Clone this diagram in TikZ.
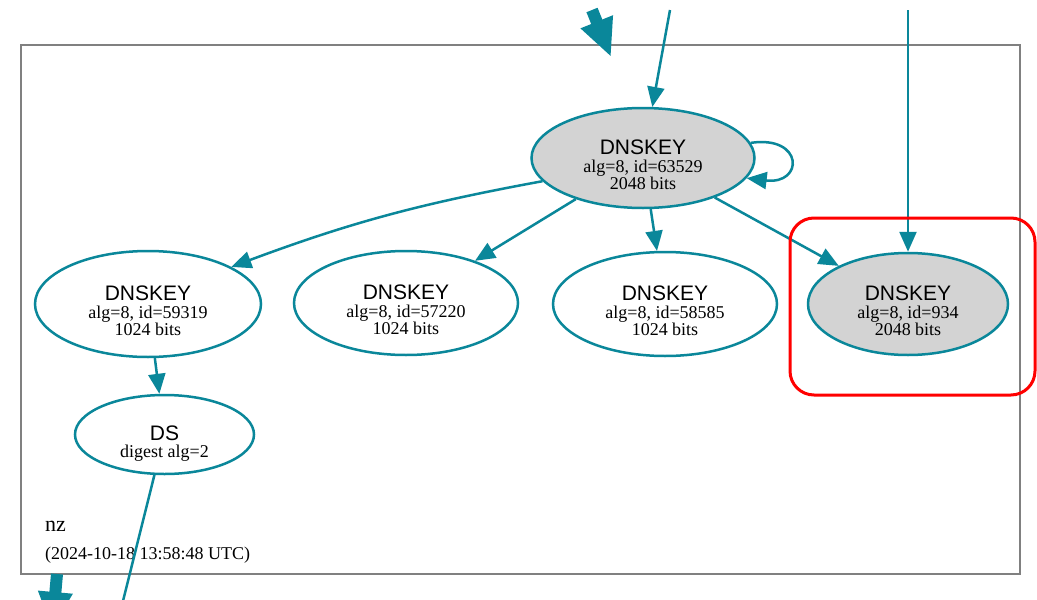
\documentclass[tikz,border=0pt]{standalone}
\usepackage{fontspec}
\setmainfont{Liberation Serif}
\setsansfont{Liberation Sans}
\usetikzlibrary{arrows.meta,shapes.geometric}
\definecolor{dnsteal}{HTML}{0A879A}
\definecolor{dnsgray}{HTML}{D3D3D3}
\definecolor{framegray}{HTML}{808080}
\begin{document}
\begin{tikzpicture}[x=1pt,y=-1pt,
  keynode/.style={ellipse, draw=dnsteal, line width=2.5pt, inner sep=0pt, align=center,
    font=\fontsize{18}{17.5}\selectfont, minimum width=224pt, minimum height=104pt},
  ksknode/.style={keynode, fill=dnsgray},
  edge/.style={draw=dnsteal, line width=2.5pt, -{Triangle[length=20pt,width=17pt]}},
  thickedge/.style={draw=dnsteal, line width=12pt, -{Triangle[length=38pt,width=32pt]}},
  plain/.style={draw=dnsteal, line width=2.5pt},
  caption/.style={anchor=base west, inner sep=0pt}
]
\useasboundingbox (0,0) rectangle (1037,600);
\clip (0,0) rectangle (1037,600);
\fill[white] (0,0) rectangle (1037,600);

% zone frame
\draw[framegray, line width=1.6pt] (21,45) rectangle (1020,574);

% nodes
\node[ksknode, minimum width=223pt, minimum height=100pt] (k1) at (643,158)
  {\rule{0pt}{29pt}{\sffamily\fontsize{21}{17.5}\selectfont DNSKEY}\\alg=8, id=63529\\2048 bits};
\node[keynode, minimum width=226pt, minimum height=106pt] (k2) at (148,304)
  {\rule{0pt}{29pt}{\sffamily\fontsize{21}{17.5}\selectfont DNSKEY}\\alg=8, id=59319\\1024 bits};
\node[keynode] (k3) at (406,303)
  {\rule{0pt}{29pt}{\sffamily\fontsize{21}{17.5}\selectfont DNSKEY}\\alg=8, id=57220\\1024 bits};
\node[keynode] (k4) at (665,304)
  {\rule{0pt}{29pt}{\sffamily\fontsize{21}{17.5}\selectfont DNSKEY}\\alg=8, id=58585\\1024 bits};
\node[ksknode, minimum width=200pt, minimum height=102pt] (k5) at (908,304)
  {\rule{0pt}{29pt}{\sffamily\fontsize{21}{17.5}\selectfont DNSKEY}\\alg=8, id=934\\2048 bits};
\node[keynode, minimum width=179pt, minimum height=79pt] (ds) at (164.5,434.5)
  {\rule{0pt}{33pt}{\sffamily\fontsize{21}{17.5}\selectfont DS}\\digest alg=2};

\node[caption, font=\fontsize{22}{22}\selectfont] (zname) at (45,531) {nz};
\node[caption, font=\fontsize{18}{18}\selectfont] (ztime) at (45,559) {(2024-10-18 13:58:48 UTC)};

% free ends
\coordinate (t0) at (592,10);
\coordinate (t0tip) at (611,57);
\coordinate (t1) at (670,10);
\coordinate (t2) at (908,10);
\coordinate (b0) at (57,574);
\coordinate (b0tip) at (52,630);
\coordinate (b1) at (122,605);

% connectors
\draw[thickedge] (t0) -- (t0tip);
\draw[edge] (t1) -- (k1);
\draw[edge] (t2) -- (k5);
\draw[edge] (k1.8.5) .. controls (804,135) and (804,185) .. (k1.-11);
\draw[edge] (k1.193) to[bend right=5] (k2.24);
\draw[edge] (k1) -- (k3);
\draw[edge] (k1) -- (k4);
\draw[edge] (k1) -- (k5);
\draw[edge] (k2) -- (ds);
\draw[plain] (ds) -- (b1);
\draw[thickedge] (b0) -- (b0tip);

% highlight
\draw[red, line width=3pt, rounded corners=24pt] (790,218) rectangle (1035,395);
\end{tikzpicture}
\end{document}
